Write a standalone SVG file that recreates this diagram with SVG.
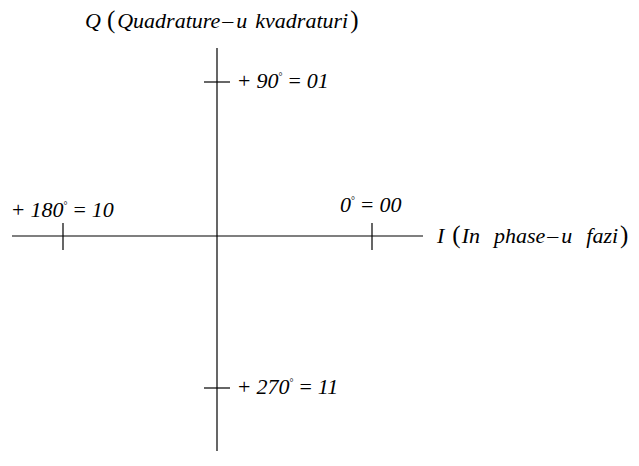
<svg xmlns="http://www.w3.org/2000/svg" width="639" height="466" viewBox="0 0 639 466">
<style>
.ax{stroke:#000;stroke-width:1.2;fill:none}
text{font-family:'Liberation Serif','Times New Roman',serif;font-size:22px;font-style:italic;fill:#000}
.u{font-style:normal}
.p{font-style:normal;font-size:25px}
.d{font-style:normal;font-size:10px}
</style>
<rect width="639" height="466" fill="#fff"/>
<g id="connectors">
<line class="ax" x1="217" y1="48" x2="217" y2="451"/>
<line class="ax" x1="12" y1="236" x2="423" y2="236"/>
<line class="ax" x1="204" y1="82" x2="230" y2="82"/>
<line class="ax" x1="204" y1="388" x2="230" y2="388"/>
<line class="ax" x1="63" y1="223" x2="63" y2="250"/>
<line class="ax" x1="372" y1="223" x2="372" y2="250"/>
</g>
<g id="q-axis-label"><text x="85" y="28">Q<tspan class="p" dx="6">(</tspan><tspan dx="2">Quadrature</tspan><tspan class="u" dx="2">–</tspan><tspan dx="3">u</tspan><tspan dx="8">kvadraturi</tspan><tspan class="p" dx="2">)</tspan></text></g>
<g id="i-axis-label"><text x="437" y="243">I<tspan class="p" dx="8">(</tspan><tspan dx="1">In</tspan><tspan dx="14">phase</tspan><tspan class="u" dx="2">–</tspan><tspan dx="3">u</tspan><tspan dx="14">fazi</tspan><tspan class="p" dx="2">)</tspan></text></g>
<g id="p90"><text x="238" y="88"><tspan class="u">+</tspan><tspan dx="6">90</tspan><tspan class="d" dy="-8">°</tspan><tspan class="u" dx="6" dy="8">=</tspan><tspan dx="6">01</tspan></text></g>
<g id="p180"><text x="12" y="217"><tspan class="u">+</tspan><tspan dx="6">180</tspan><tspan class="d" dy="-8">°</tspan><tspan class="u" dx="6" dy="8">=</tspan><tspan dx="6">10</tspan></text></g>
<g id="p0"><text x="340" y="212">0<tspan class="d" dy="-8">°</tspan><tspan class="u" dx="6" dy="8">=</tspan><tspan dx="6">00</tspan></text></g>
<g id="p270"><text x="238" y="394"><tspan class="u">+</tspan><tspan dx="6">270</tspan><tspan class="d" dy="-8">°</tspan><tspan class="u" dx="6" dy="8">=</tspan><tspan dx="6">11</tspan></text></g>
</svg>
